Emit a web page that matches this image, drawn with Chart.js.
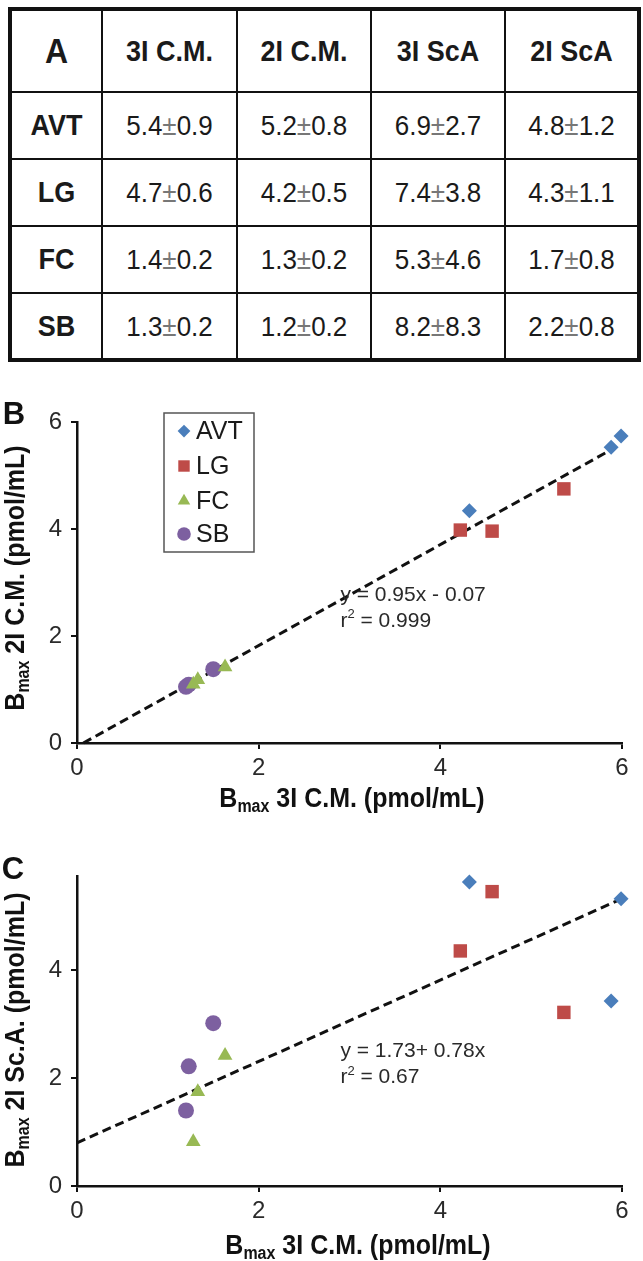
<!DOCTYPE html>
<html>
<head>
<meta charset="utf-8">
<script src="https://cdn.jsdelivr.net/npm/chart.js@4.4.0/dist/chart.umd.min.js"></script>
<style>
  body { margin: 0; background: #fff; width: 643px; height: 1261px; position: relative; overflow: hidden;
         font-family: "Liberation Sans", Arial, sans-serif; }
  #tbl { position: absolute; left: 8px; top: 7px; width: 629px; height: 351px; border-collapse: collapse;
         border: 4px solid #111; table-layout: fixed; }
  #tbl td { border: 2.5px solid #111; text-align: center; padding: 0; font-size: 26px; color: #1a1a1a; }
  #tbl td span.t { display: inline-block; transform: scaleY(1.08); }
  #tbl tr.head td { font-weight: bold; font-size: 27px; }
  #tbl tr.head td.corner { font-size: 32px; }
  #tbl td.rowname { font-weight: bold; font-size: 27px; }
  #tbl .pm { color: #777; }
  canvas { position: absolute; left: 0; }
  #chartB { top: 370px; }
  #chartC { top: 820px; }
</style>
</head>
<body>
<table id="tbl"></table>
<canvas id="chartB" width="643" height="450"></canvas>
<canvas id="chartC" width="643" height="441"></canvas>
<script>
// --- table A ---
const tableHead = ['A', '3I C.M.', '2I C.M.', '3I ScA', '2I ScA'];
const regions = ['AVT', 'LG', 'FC', 'SB'];
const cm3 = ['5.4±0.9', '4.7±0.6', '1.4±0.2', '1.3±0.2'];
const cm2 = ['5.2±0.8', '4.2±0.5', '1.3±0.2', '1.2±0.2'];
const sca3 = ['6.9±2.7', '7.4±3.8', '5.3±4.6', '8.2±8.3'];
const sca2 = ['4.8±1.2', '4.3±1.1', '1.7±0.8', '2.2±0.8'];

// --- scatter data (x = Bmax 3I C.M.) ---
const avtX = [4.32, 5.88, 5.99];
const avtB = [4.34, 5.53, 5.74];
const avtC = [5.64, 3.43, 5.33];
const lgX = [4.22, 4.57, 5.36];
const lgB = [3.98, 3.96, 4.75];
const lgC = [4.36, 5.46, 3.22];
const fcX = [1.28, 1.33, 1.63];
const fcB = [1.10, 1.18, 1.42];
const fcC = [0.82, 1.75, 2.42];
const sbX = [1.20, 1.23, 1.50];
const sbB = [1.05, 1.09, 1.38];
const sbC = [1.40, 2.22, 3.02];

// trend lines, end points
const trendBX = [0.07, 5.9];
const trendBY = [0, 5.5];
const trendCX = [0, 6];
const trendCY = [0.8, 5.33];

const xTicks = [0, 2, 4, 6];
const yTicksB = [0, 2, 4, 6];
const yTicksC = [0, 2, 4];

const colors = ['#4A7EBB', '#BE4B48', '#98B954', '#7D60A0'];
const shapes = ['rectRot', 'rect', 'triangle', 'circle'];
const radii = [7.5, 9.5, 8.5, 8];

// build table
const tbl = document.getElementById('tbl');
const colW = [92, 135, 134, 134, 134];
function cellHtml(s) {
  const p = s.split('±');
  const inner = p.length > 1 ? p[0] + '<span class="pm">±</span>' + p[1] : s;
  return '<span class="t">' + inner + '</span>';
}
let html = '<colgroup>' + colW.map(w => `<col style="width:${w}px">`).join('') + '</colgroup>';
html += '<tr class="head" style="height:83px">' + tableHead.map((h, i) =>
  `<td class="${i === 0 ? 'corner' : ''}">${cellHtml(h)}</td>`).join('') + '</tr>';
regions.forEach((r, i) => {
  html += '<tr style="height:67px"><td class="rowname">' + cellHtml(r) + '</td>' +
    [cm3[i], cm2[i], sca3[i], sca2[i]].map(v => '<td>' + cellHtml(v) + '</td>').join('') + '</tr>';
});
tbl.innerHTML = html;

function pts(xs, ys) { return xs.map((x, i) => ({ x: x, y: ys[i] })); }

function pointSets(ys) {
  const xs = [avtX, lgX, fcX, sbX];
  return regions.map((r, i) => ({
    label: r,
    data: pts(xs[i], ys[i]),
    pointStyle: shapes[i],
    pointRadius: radii[i],
    pointHoverRadius: radii[i],
    backgroundColor: colors[i],
    borderColor: colors[i],
    borderWidth: 0,
    clip: false,
    order: 0
  }));
}

const FONT = '"Liberation Sans", Arial, sans-serif';

function drawShape(ctx, shape, x, y, r, color) {
  ctx.fillStyle = color;
  ctx.beginPath();
  if (shape === 'rectRot') {
    ctx.moveTo(x - r, y); ctx.lineTo(x, y - r); ctx.lineTo(x + r, y); ctx.lineTo(x, y + r);
  } else if (shape === 'rect') {
    const s = r * Math.SQRT1_2;
    ctx.rect(x - s, y - s, 2 * s, 2 * s);
  } else if (shape === 'triangle') {
    ctx.moveTo(x, y - r);
    ctx.lineTo(x + r * 0.866, y + r / 2);
    ctx.lineTo(x - r * 0.866, y + r / 2);
  } else {
    ctx.arc(x, y, r, 0, Math.PI * 2);
  }
  ctx.closePath();
  ctx.fill();
}

// axis title with subscript "max"
function drawBmax(ctx, cx, cy, rotate, rest) {
  ctx.save();
  ctx.translate(cx, cy);
  if (rotate) ctx.rotate(-Math.PI / 2);
  ctx.scale(1, 1.1);
  ctx.fillStyle = '#111';
  ctx.textBaseline = 'alphabetic';
  const big = 'bold 25px ' + FONT, small = 'bold 16px ' + FONT;
  ctx.font = big; const wB = ctx.measureText('B').width; const wR = ctx.measureText(rest).width;
  ctx.font = small; const wS = ctx.measureText('max').width;
  let x = -(wB + wS + wR) / 2;
  ctx.font = big; ctx.fillText('B', x, 8); x += wB;
  ctx.font = small; ctx.fillText('max', x, 13); x += wS;
  ctx.font = big; ctx.fillText(rest, x, 8);
  ctx.restore();
}

function drawEq(ctx, chart, x, y, line1, r2) {
  const px = chart.scales.x.getPixelForValue(x);
  const py = chart.scales.y.getPixelForValue(y);
  ctx.save();
  ctx.fillStyle = '#2a2a2a';
  ctx.textBaseline = 'middle';
  ctx.font = '21px ' + FONT;
  ctx.fillText(line1, px, py);
  ctx.fillText('r', px, py + 26);
  const wr = ctx.measureText('r').width;
  ctx.font = '13px ' + FONT;
  ctx.fillText('2', px + wr, py + 20);
  const w2 = ctx.measureText('2').width;
  ctx.font = '21px ' + FONT;
  ctx.fillText(' = ' + r2, px + wr + w2, py + 26);
  ctx.restore();
}

function makeChart(id, ys, tx, ty, yMax, yTicks, cfg) {
  const canvas = document.getElementById(id);
  const H = canvas.height;
  const datasets = pointSets(ys);
  datasets.push({
    type: 'line', label: 'trend', data: pts(tx, ty), borderColor: '#111', borderWidth: 3,
    borderDash: [9, 5], pointRadius: 0, fill: false, order: 10, clip: false
  });
  const tickFont = { family: FONT, size: 24 };
  const extras = {
    id: 'extras',
    afterDraw(chart) {
      const ctx = chart.ctx;
      const a = chart.chartArea;
      ctx.save();
      ctx.fillStyle = '#111';
      ctx.font = 'bold 31px ' + FONT;
      ctx.textAlign = 'center';
      ctx.textBaseline = 'middle';
      ctx.fillText(cfg.letter, cfg.letterX, cfg.letterY);
      ctx.restore();
      drawBmax(ctx, cfg.yTitleX, cfg.yTitleY, true, cfg.yTitle);
      drawBmax(ctx, cfg.xTitleX, cfg.xTitleY, false, ' 3I C.M. (pmol/mL)');
      drawEq(ctx, chart, cfg.eqX, cfg.eqY, cfg.eq, cfg.r2);
      if (cfg.legend) {
        const lx = a.left + 87, ly = a.top - 9, lw = 90, lh = 139;
        ctx.save();
        ctx.fillStyle = '#fff';
        ctx.fillRect(lx, ly, lw, lh);
        ctx.strokeStyle = '#555';
        ctx.lineWidth = 1.5;
        ctx.strokeRect(lx, ly, lw, lh);
        const rowY = [18, 53, 88, 121];
        regions.forEach((r, i) => {
          drawShape(ctx, shapes[i], lx + 20, ly + rowY[i], radii[i] * 0.85, colors[i]);
          ctx.fillStyle = '#1a1a1a';
          ctx.font = '25px ' + FONT;
          ctx.textBaseline = 'middle';
          ctx.fillText(r, lx + 32, ly + rowY[i] + 1);
        });
        ctx.restore();
      }
    }
  };
  return new Chart(canvas, {
    type: 'scatter',
    data: { datasets: datasets },
    plugins: [extras],
    options: {
      responsive: false,
      animation: false,
      events: [],
      layout: { padding: { left: 0, right: 21, top: cfg.top, bottom: 0 } },
      plugins: { legend: { display: false }, tooltip: { enabled: false } },
      scales: {
        x: {
          type: 'linear', min: 0, max: 6,
          afterFit: s => { s.height = H - cfg.bottom; },
          afterBuildTicks: s => { s.ticks = xTicks.map(v => ({ value: v })); },
          grid: { drawOnChartArea: false, drawTicks: true, tickLength: 6, color: '#111', lineWidth: 2 },
          border: { display: true, color: '#111', width: 2.5 },
          ticks: { font: tickFont, color: '#2a2a2a', padding: 5, maxRotation: 0 }
        },
        y: {
          type: 'linear', min: 0, max: yMax,
          afterFit: s => { s.width = 77; },
          afterBuildTicks: s => { s.ticks = yTicks.map(v => ({ value: v })); },
          grid: { drawOnChartArea: false, drawTicks: true, tickLength: 6, color: '#111', lineWidth: 2 },
          border: { display: true, color: '#111', width: 2.5 },
          ticks: { font: tickFont, color: '#2a2a2a', padding: 9 }
        }
      }
    }
  });
}

makeChart('chartB', [avtB, lgB, fcB, sbB], trendBX, trendBY, 6, yTicksB, {
  top: 52, bottom: 373, letter: 'B', letterX: 14, letterY: 45,
  yTitle: ' 2I C.M. (pmol/mL)', yTitleX: 15, yTitleY: 208,
  xTitleX: 352, xTitleY: 428,
  eqX: 2.9, eqY: 2.77, eq: 'y = 0.95x - 0.07', r2: '0.999', legend: true
});

makeChart('chartC', [avtC, lgC, fcC, sbC], trendCX, trendCY, 5.75, yTicksC, {
  top: 56, bottom: 366, letter: 'C', letterX: 13, letterY: 50,
  yTitle: ' 2I Sc.A. (pmol/mL)', yTitleX: 15, yTitleY: 210,
  xTitleX: 358, xTitleY: 425,
  eqX: 2.9, eqY: 2.5, eq: 'y = 1.73+ 0.78x', r2: '0.67', legend: false
});
</script>
</body>
</html>
